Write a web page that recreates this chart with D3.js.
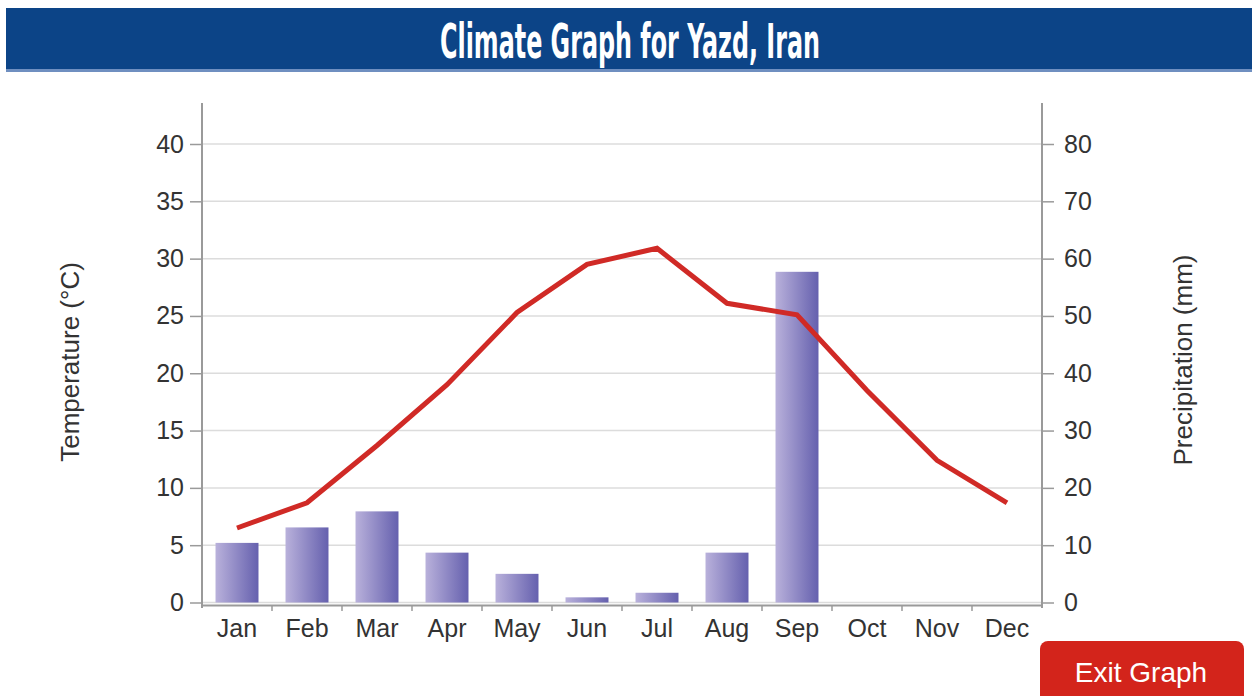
<!DOCTYPE html>
<html>
<head>
<meta charset="utf-8">
<script src="https://cdn.jsdelivr.net/npm/d3@7"></script>
<style>
  body { margin: 0; background: #fff; }
  svg { display: block; font-family: "Liberation Sans", Arial, sans-serif; }
</style>
</head>
<body>
<div id="vis"></div>
<script>
const months = ["Jan", "Feb", "Mar", "Apr", "May", "Jun", "Jul", "Aug", "Sep", "Oct", "Nov", "Dec"];
const temperature = [6.5, 8.7, 13.7, 19.0, 25.3, 29.5, 30.9, 26.1, 25.1, 18.5, 12.4, 8.7];
const precipitation = [10.4, 13.1, 15.9, 8.7, 5.0, 0.9, 1.7, 8.7, 57.7, 0, 0, 0];
const tempTicks = [0, 5, 10, 15, 20, 25, 30, 35, 40];
const precTicks = [0, 10, 20, 30, 40, 50, 60, 70, 80];

const W = 1252, H = 696;
const plot = { left: 202, right: 1042, top: 144, bottom: 602.5 };

const svg = d3.select("#vis").append("svg").attr("width", W).attr("height", H);

// header band
svg.append("rect").attr("x", 6).attr("y", 8).attr("width", W - 6).attr("height", 62).attr("fill", "#0c4487");
svg.append("rect").attr("x", 6).attr("y", 69).attr("width", W - 6).attr("height", 3).attr("fill", "#6f8fc0");
svg.append("text")
  .attr("x", 630).attr("y", 58)
  .attr("text-anchor", "middle")
  .attr("fill", "#fff")
  .style("font-family", "'Liberation Sans Narrow', 'DejaVu Sans Condensed', sans-serif")
  .style("font-weight", "bold")
  .style("font-size", "48px")
  .attr("textLength", 380)
  .attr("lengthAdjust", "spacingAndGlyphs")
  .text("Climate Graph for Yazd, Iran");

const x = d3.scaleBand().domain(months).range([plot.left, plot.right]).paddingInner(0.386).paddingOuter(0.193);
const band = d3.scaleBand().domain(months).range([plot.left, plot.right]);
const yT = d3.scaleLinear().domain([0, 40]).range([plot.bottom, plot.top]);
const yP = d3.scaleLinear().domain([0, 80]).range([plot.bottom, plot.top]);

// gridlines
svg.append("g")
  .selectAll("line").data(tempTicks).join("line")
  .attr("x1", plot.left).attr("x2", plot.right)
  .attr("y1", d => yT(d)).attr("y2", d => yT(d))
  .attr("stroke", "#dcdcdc").attr("stroke-width", 1.5);

// bar gradient
const grad = svg.append("defs").append("linearGradient").attr("id", "barGrad")
  .attr("x1", "0%").attr("x2", "100%").attr("y1", "0%").attr("y2", "0%");
grad.append("stop").attr("offset", "0%").attr("stop-color", "#b9b1db");
grad.append("stop").attr("offset", "100%").attr("stop-color", "#6560ae");

svg.append("g")
  .selectAll("rect").data(months).join("rect")
  .attr("x", d => x(d))
  .attr("width", x.bandwidth())
  .attr("y", (d, i) => yP(precipitation[i]))
  .attr("height", (d, i) => yP(0) - yP(precipitation[i]))
  .attr("fill", "url(#barGrad)");

// axes
const axisColor = "#9a9a9a";
const labelFont = "'Liberation Sans', Arial, sans-serif";
const left = svg.append("g").attr("transform", `translate(${plot.left},0)`)
  .call(d3.axisLeft(yT).tickValues(tempTicks).tickSize(12).tickPadding(6));
const right = svg.append("g").attr("transform", `translate(${plot.right},0)`)
  .call(d3.axisRight(yP).tickValues(precTicks).tickSize(12).tickPadding(10));
[left, right].forEach(g => {
  g.select(".domain").remove();
  g.selectAll(".tick line").attr("stroke", axisColor).attr("stroke-width", 1.5);
  g.selectAll(".tick text").attr("fill", "#333").style("font-size", "25px").style("font-family", labelFont);
});
[plot.left, plot.right].forEach(px => {
  svg.append("line").attr("x1", px).attr("x2", px).attr("y1", 103).attr("y2", 608)
    .attr("stroke", axisColor).attr("stroke-width", 2);
});

const bottom = svg.append("g").attr("transform", `translate(0,605)`)
  .call(d3.axisBottom(band).tickSize(0).tickPadding(14));
bottom.select(".domain").attr("stroke", axisColor).attr("stroke-width", 2);
bottom.selectAll(".tick text").attr("fill", "#333").style("font-size", "25px").style("font-family", labelFont);
svg.append("g").selectAll("line").data(months.slice(1)).join("line")
  .attr("x1", d => band(d)).attr("x2", d => band(d))
  .attr("y1", 605).attr("y2", 611)
  .attr("stroke", axisColor).attr("stroke-width", 1.5);

// temperature line
const line = d3.line()
  .x((d, i) => band(months[i]) + band.bandwidth() / 2)
  .y(d => yT(d));
svg.append("path").datum(temperature)
  .attr("d", line)
  .attr("fill", "none")
  .attr("stroke", "#d02a26")
  .attr("stroke-width", 5)
  .attr("stroke-linejoin", "miter");

// axis titles
svg.append("text")
  .attr("transform", "translate(79,362) rotate(-90)")
  .attr("text-anchor", "middle")
  .attr("fill", "#333")
  .style("font-size", "26px")
  .text("Temperature (°C)");
svg.append("text")
  .attr("transform", "translate(1192,360) rotate(-90)")
  .attr("text-anchor", "middle")
  .attr("fill", "#333")
  .style("font-size", "26px")
  .text("Precipitation (mm)");

// exit button
svg.append("rect").attr("x", 1040).attr("y", 641).attr("width", 204).attr("height", 70)
  .attr("rx", 8).attr("fill", "#d3241b");
svg.append("text").attr("x", 1141).attr("y", 682)
  .attr("text-anchor", "middle").attr("fill", "#fff")
  .style("font-size", "28px")
  .text("Exit Graph");
</script>
</body>
</html>
